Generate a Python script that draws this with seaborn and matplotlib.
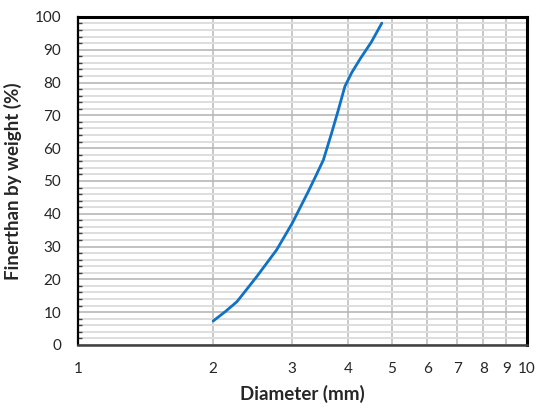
import matplotlib
matplotlib.use("Agg")
import matplotlib.pyplot as plt
import seaborn as sns
import pandas as pd
from matplotlib.ticker import FixedLocator, MultipleLocator

diameter = [2.0, 2.13, 2.26, 2.5, 2.77, 3.0, 3.25, 3.38, 3.52, 3.67, 3.80, 3.93, 4.07, 4.25, 4.5, 4.75]
finer = [7.3, 10.2, 13.2, 20.8, 29.0, 37.1, 46.5, 51.3, 56.4, 64.5, 71.6, 78.8, 83.0, 87.2, 92.3, 98.1]
x_ticks = [1, 2, 3, 4, 5, 6, 7, 8, 9, 10]
x_labels = ["1", "2", "3", "4", "5", "6", "7", "8", "9", "10"]

df = pd.DataFrame({"d": diameter, "f": finer})

sns.set_style("white")
plt.rcParams["font.family"] = ["Lato", "DejaVu Sans"]

fig = plt.figure(figsize=(5.43, 4.03), dpi=100)
ax = fig.add_axes([0.1436, 0.144, 0.8269, 0.814])

ax.set_xscale("log")
ax.set_xlim(1, 10)
ax.set_ylim(0, 100)

ax.yaxis.set_major_locator(MultipleLocator(10))
ax.yaxis.set_minor_locator(MultipleLocator(2))
ax.xaxis.set_major_locator(FixedLocator(x_ticks))
ax.xaxis.set_minor_locator(FixedLocator([]))
ax.set_xticklabels(x_labels)
ax.grid(which="minor", axis="y", color="#dedede", linewidth=1.4, zorder=0)
ax.grid(which="major", axis="y", color="#b8b8b8", linewidth=1.2, zorder=0)
ax.grid(which="major", axis="x", color="#bfbfbf", linewidth=1.2, zorder=0)
ax.set_axisbelow(True)

sns.lineplot(data=df, x="d", y="f", ax=ax, color="#0f72c4", linewidth=2.0,
             estimator=None, sort=False)

for side in ["left", "top", "right"]:
    ax.spines[side].set_color("black")
ax.spines["left"].set_linewidth(1.6)
ax.spines["top"].set_linewidth(2.2)
ax.spines["right"].set_linewidth(2.2)
ax.spines["bottom"].set_color("#404040")
ax.spines["bottom"].set_linewidth(1.8)

ax.tick_params(axis="y", which="major", length=0, pad=12, labelsize=11, labelcolor="#262626")
ax.tick_params(axis="y", which="minor", direction="in", length=3, width=1, color="#404040", left=True)
ax.tick_params(axis="x", which="major", length=0, pad=12, labelsize=11, labelcolor="#262626")

ax.set_xlabel("Diameter (mm)", fontsize=13.5, fontweight="bold", labelpad=7)
ax.set_ylabel("Finerthan by weight (%)", fontsize=13.5, fontweight="bold", labelpad=9)

fig.savefig("out.png", dpi=100, facecolor="white")
